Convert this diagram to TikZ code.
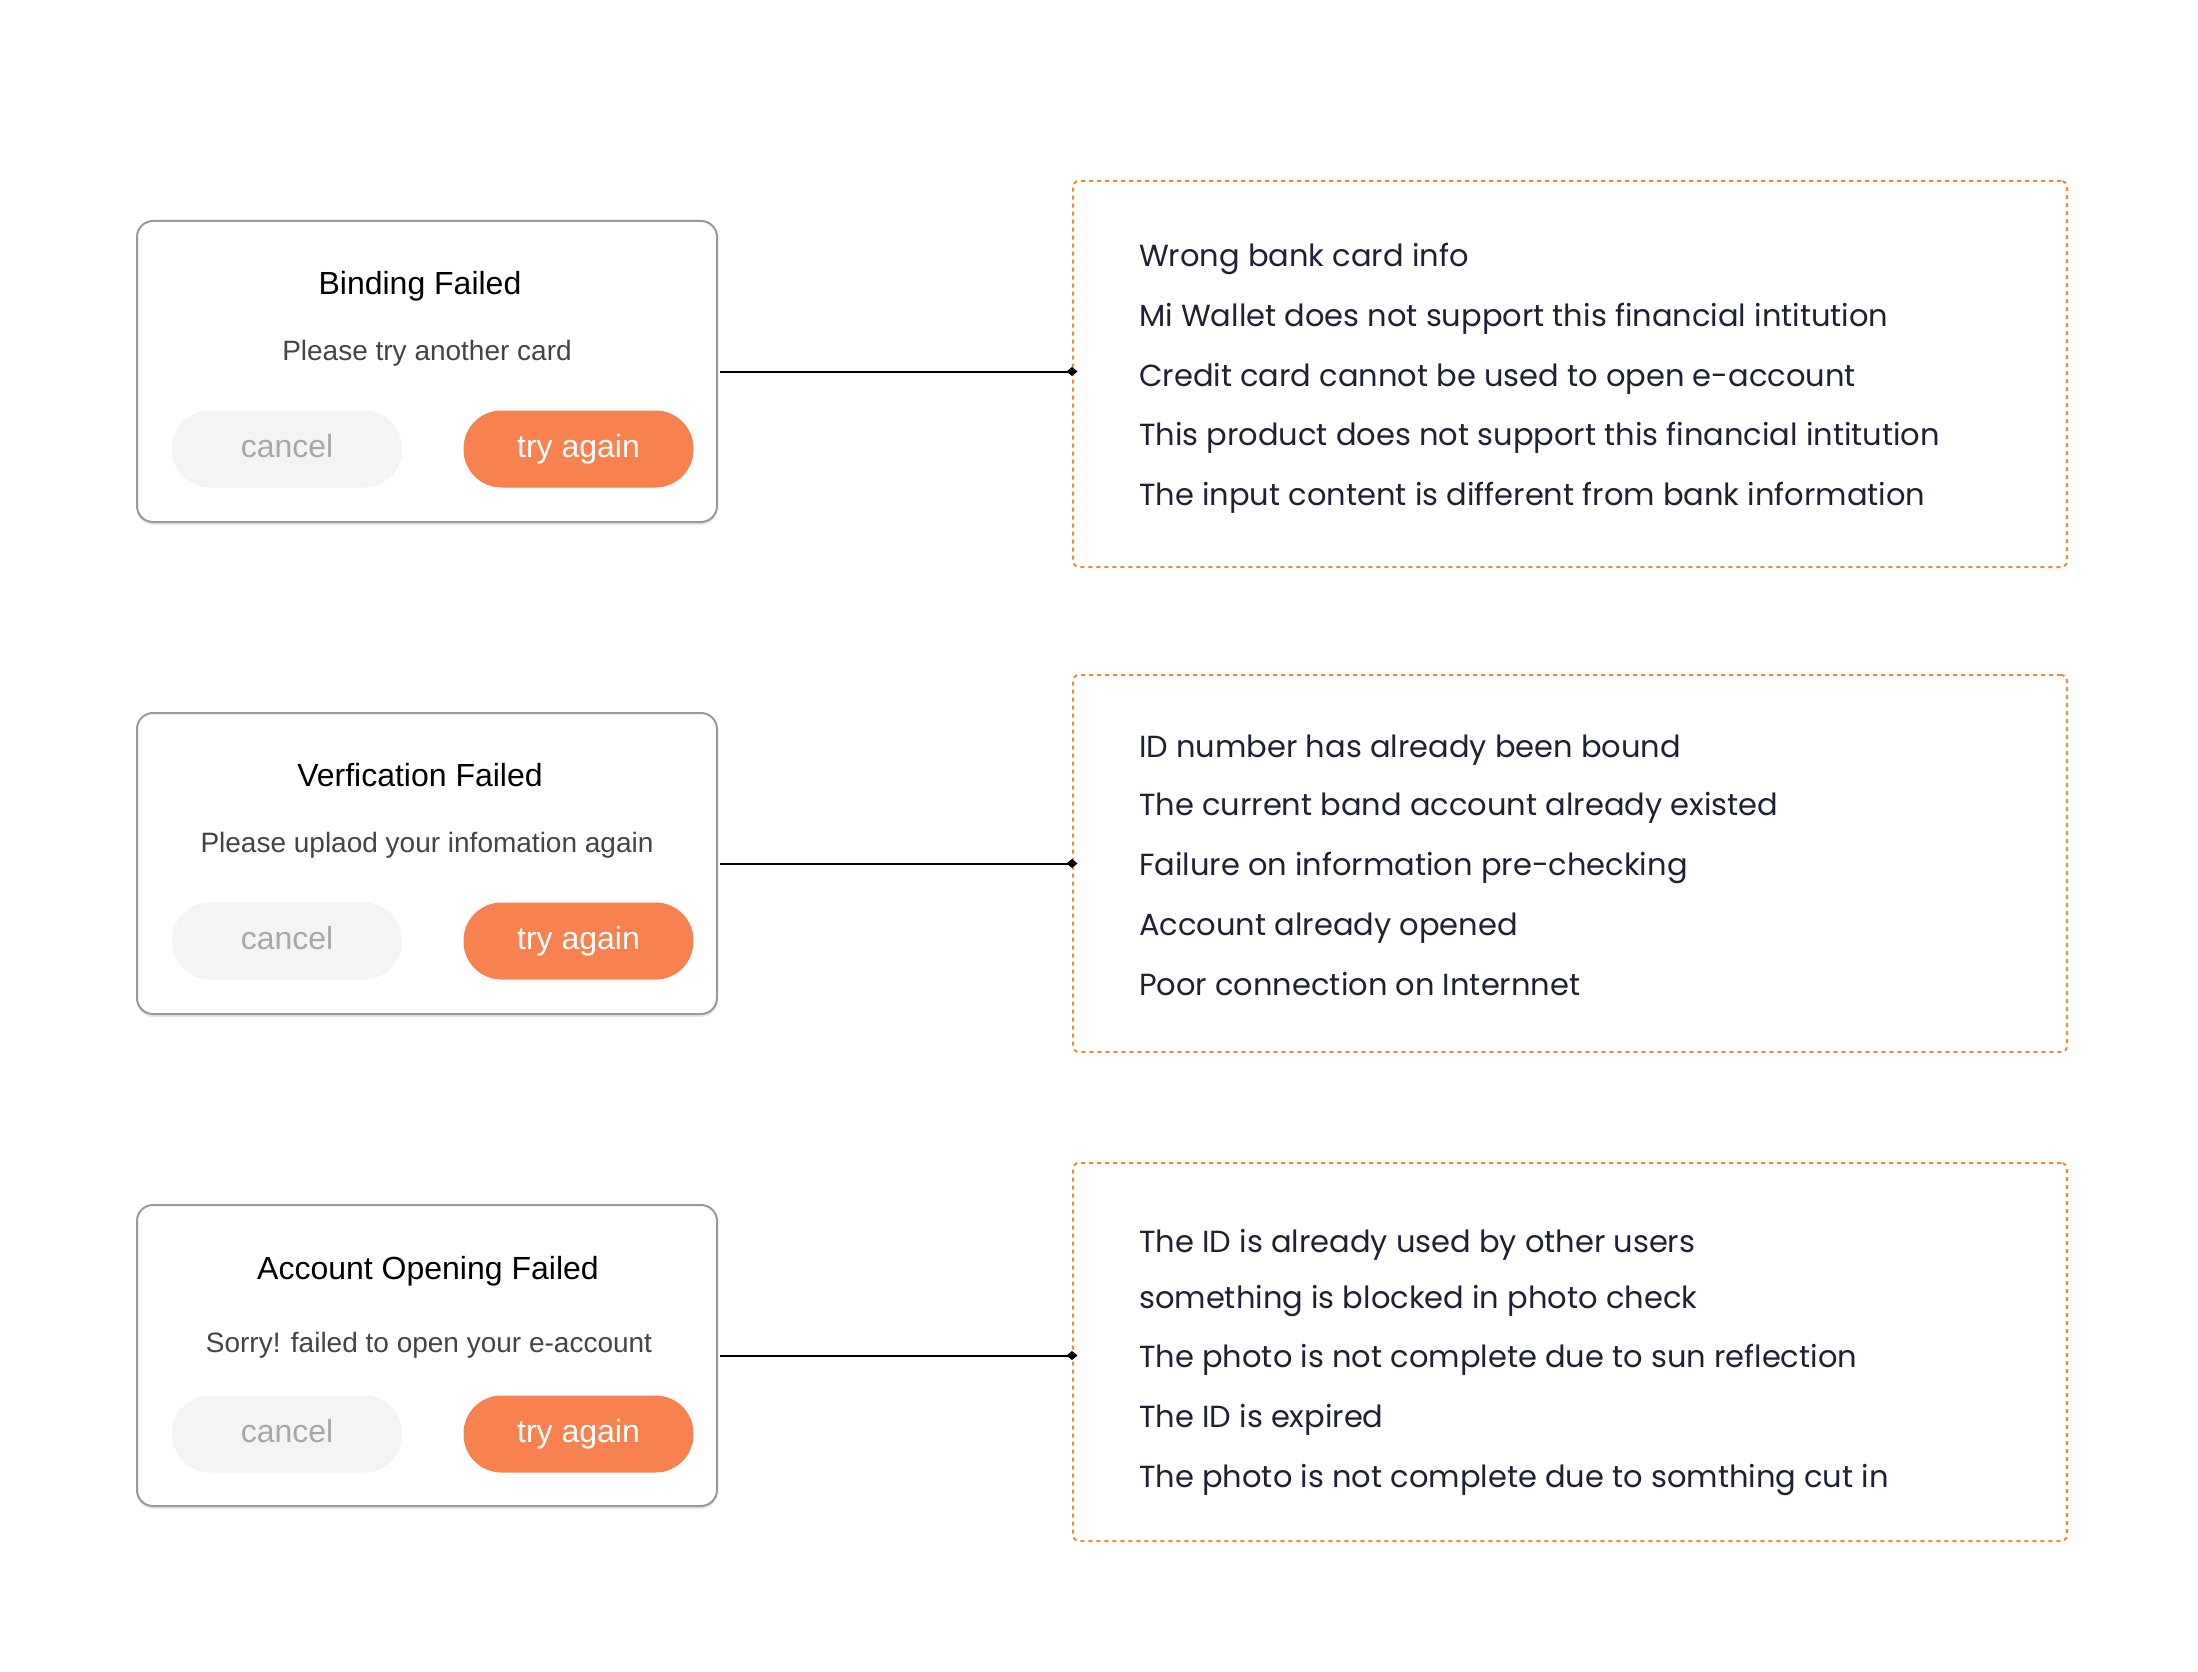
\documentclass[tikz,border=0pt]{standalone}
\usepackage{fontspec}
\setmainfont{Liberation Sans}
\newfontfamily\listfont{Poppins}
\usetikzlibrary{arrows.meta,shadows,positioning}
\definecolor{tryorange}{HTML}{F7814F}
\definecolor{dotorange}{HTML}{F0873C}
\definecolor{framegray}{HTML}{999999}
\definecolor{cancelfill}{HTML}{F4F4F4}
\definecolor{cancelgray}{HTML}{A8A8A8}
\definecolor{subgray}{HTML}{444444}
\definecolor{listnavy}{HTML}{1E2132}

\begin{document}
\begin{tikzpicture}[x=1pt,y=-1pt,
  dialog/.style={draw=framegray,line width=2pt,fill=white,rounded corners=16pt,
    minimum width=580pt,minimum height=301pt,
    drop shadow={shadow xshift=0pt,shadow yshift=-3pt,opacity=0.18}},
  title/.style={font=\fontsize{32pt}{38pt}\selectfont,text height=23pt,text depth=0pt},
  subtitle/.style={font=\fontsize{28pt}{34pt}\selectfont,text=subgray,text height=20pt,text depth=0pt},
  cancelbtn/.style={fill=cancelfill,rounded corners=38pt,minimum width=230pt,minimum height=77pt,
    font=\fontsize{32pt}{38pt}\selectfont,text=cancelgray,text height=17pt,text depth=0pt},
  trybtn/.style={cancelbtn,fill=tryorange,text=white},
  reasons/.style={draw=dotorange,line width=2pt,dash pattern=on 4pt off 4pt,rounded corners=6pt,
    minimum width=994pt},
  reason/.style={anchor=west,font=\listfont\fontsize{30.5pt}{36pt}\selectfont,text=listnavy,
    text height=24pt,text depth=0pt,inner sep=0pt},
  link/.style={line width=2pt,-{Diamond[length=11pt,width=9pt]},shorten <=2pt,shorten >=-5.5pt}]
  \useasboundingbox (0,0) rectangle (2198,1672);

  % dialogs
  \node[dialog] (d1) at (427,371.5) {};
  \node[title] at (420,283) {Binding Failed};
  \node[subtitle] at (427,350) {Please try another card};
  \node[cancelbtn] (c1) at (287,449) {cancel};
  \node[trybtn] (t1) at (578.5,449) {try again};

  \node[dialog] (d2) at (427,863.5) {};
  \node[title] at (420,775) {Verfication Failed};
  \node[subtitle] at (427,842) {Please uplaod your infomation again};
  \node[cancelbtn] (c2) at (287,941) {cancel};
  \node[trybtn] (t2) at (578.5,941) {try again};

  \node[dialog] (d3) at (427,1355.5) {};
  \node[title] at (428,1268) {Account Opening Failed};
  \node[subtitle] at (429,1342) {Sorry! failed to open your e-account};
  \node[cancelbtn] (c3) at (287,1434) {cancel};
  \node[trybtn] (t3) at (578.5,1434) {try again};

  % reasons
  \node[reasons,minimum height=386pt] (r1) at (1570,374) {};
  \node[reason] at (1139,254) {Wrong bank card info};
  \node[reason] at (1139,314) {Mi Wallet does not support this financial intitution};
  \node[reason] at (1139,374) {Credit card cannot be used to open e-account};
  \node[reason] at (1139,433) {This product does not support this financial intitution};
  \node[reason] at (1139,493) {The input content is different from bank information};

  \node[reasons,minimum height=377pt] (r2) at (1570,863.5) {};
  \node[reason] at (1139,745) {ID number has already been bound};
  \node[reason] at (1139,803) {The current band account already existed};
  \node[reason] at (1139,863) {Failure on information pre-checking};
  \node[reason] at (1139,923) {Account already opened};
  \node[reason] at (1139,983) {Poor connection on Internnet};

  \node[reasons,minimum height=378pt] (r3) at (1570,1352) {};
  \node[reason] at (1139,1240) {The ID is already used by other users};
  \node[reason] at (1139,1296) {something is blocked in photo check};
  \node[reason] at (1139,1355) {The photo is not complete due to sun reflection};
  \node[reason] at (1139,1415) {The ID is expired};
  \node[reason] at (1139,1475) {The photo is not complete due to somthing cut in};

  \draw[link] (d1.east) -- (d1.east -| r1.west);
  \draw[link] (d2.east) -- (d2.east -| r2.west);
  \draw[link] (d3.east) -- (d3.east -| r3.west);
\end{tikzpicture}
\end{document}
